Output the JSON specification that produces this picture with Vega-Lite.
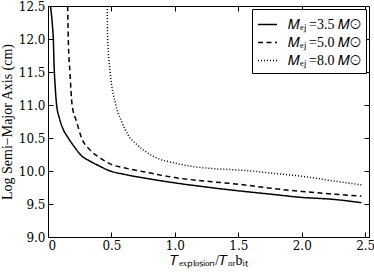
{
  "$schema": "https://vega.github.io/schema/vega-lite/v6.json",
  "autosize": "none",
  "width": 321,
  "height": 231,
  "padding": {"left": 48, "top": 6, "right": 5, "bottom": 37},
  "background": "white",
  "config": {
    "view": {"stroke": "black", "strokeWidth": 1},
    "font": "Liberation Serif",
    "axis": {
      "domain": false,
      "grid": false,
      "tickSize": -5,
      "tickColor": "black",
      "labelFont": "DejaVu Serif",
      "labelFontSize": 12,
      "labelColor": "black",
      "titleFont": "Liberation Serif",
      "titleFontSize": 14,
      "titleFontWeight": "normal",
      "titleColor": "black"
    },
    "legend": {
      "labelFont": "Liberation Serif",
      "labelFontSize": 14,
      "labelColor": "black"
    }
  },
  "data": {
    "values": [
      {"s": "a", "x": 0.02, "y": 12.5}, {"s": "a", "x": 0.035, "y": 12.2}, {"s": "a", "x": 0.042, "y": 12.0}, {"s": "a", "x": 0.048, "y": 11.6}, {"s": "a", "x": 0.056, "y": 11.3}, {"s": "a", "x": 0.068, "y": 11.0}, {"s": "a", "x": 0.09, "y": 10.8}, {"s": "a", "x": 0.12, "y": 10.63}, {"s": "a", "x": 0.16, "y": 10.5}, {"s": "a", "x": 0.21, "y": 10.36}, {"s": "a", "x": 0.265, "y": 10.23}, {"s": "a", "x": 0.33, "y": 10.15}, {"s": "a", "x": 0.4, "y": 10.08}, {"s": "a", "x": 0.49, "y": 10.0}, {"s": "a", "x": 0.6, "y": 9.95}, {"s": "a", "x": 0.8, "y": 9.88}, {"s": "a", "x": 1.0, "y": 9.82}, {"s": "a", "x": 1.275, "y": 9.75}, {"s": "a", "x": 1.5, "y": 9.7}, {"s": "a", "x": 1.75, "y": 9.65}, {"s": "a", "x": 2.0, "y": 9.6}, {"s": "a", "x": 2.25, "y": 9.57}, {"s": "a", "x": 2.47, "y": 9.52},
      {"s": "b", "x": 0.155, "y": 12.5}, {"s": "b", "x": 0.16, "y": 12.0}, {"s": "b", "x": 0.173, "y": 11.5}, {"s": "b", "x": 0.19, "y": 11.0}, {"s": "b", "x": 0.225, "y": 10.75}, {"s": "b", "x": 0.265, "y": 10.5}, {"s": "b", "x": 0.33, "y": 10.32}, {"s": "b", "x": 0.41, "y": 10.2}, {"s": "b", "x": 0.5, "y": 10.1}, {"s": "b", "x": 0.62, "y": 10.04}, {"s": "b", "x": 0.75, "y": 9.99}, {"s": "b", "x": 1.0, "y": 9.9}, {"s": "b", "x": 1.275, "y": 9.84}, {"s": "b", "x": 1.5, "y": 9.8}, {"s": "b", "x": 1.75, "y": 9.74}, {"s": "b", "x": 2.0, "y": 9.69}, {"s": "b", "x": 2.25, "y": 9.65}, {"s": "b", "x": 2.47, "y": 9.62},
      {"s": "c", "x": 0.467, "y": 12.5}, {"s": "c", "x": 0.47, "y": 12.0}, {"s": "c", "x": 0.49, "y": 11.5}, {"s": "c", "x": 0.535, "y": 11.0}, {"s": "c", "x": 0.58, "y": 10.75}, {"s": "c", "x": 0.63, "y": 10.55}, {"s": "c", "x": 0.7, "y": 10.4}, {"s": "c", "x": 0.78, "y": 10.28}, {"s": "c", "x": 0.88, "y": 10.18}, {"s": "c", "x": 1.0, "y": 10.12}, {"s": "c", "x": 1.1, "y": 10.08}, {"s": "c", "x": 1.275, "y": 10.04}, {"s": "c", "x": 1.45, "y": 10.02}, {"s": "c", "x": 1.6, "y": 10.0}, {"s": "c", "x": 1.75, "y": 9.97}, {"s": "c", "x": 2.0, "y": 9.92}, {"s": "c", "x": 2.25, "y": 9.85}, {"s": "c", "x": 2.47, "y": 9.79}
    ]
  },
  "layer": [
    {
      "mark": {"type": "line", "color": "black", "strokeWidth": 1.5, "clip": true, "interpolate": "monotone"},
      "encoding": {
        "x": {"field": "x", "type": "quantitative", "scale": {"domain": [0, 2.53], "nice": false, "zero": false},
          "axis": {"orient": "bottom", "values": [0, 0.5, 1, 1.5, 2, 2.5], "labelExpr": "datum.value == 0 ? '0' : format(datum.value, '.1f')", "labelPadding": 8, "title": "𝑇ₑₓₚₗₒₛᵢₒₙ/𝑇ₒᵣbᵢₜ", "titlePadding": 2}},
        "y": {"field": "y", "type": "quantitative", "scale": {"domain": [9, 12.5], "nice": false, "zero": false},
          "axis": {"orient": "left", "values": [9, 9.5, 10, 10.5, 11, 11.5, 12, 12.5], "format": ".1f", "labelPadding": 8, "title": "Log Semi−Major Axis (cm)", "titlePadding": 4}},
        "strokeDash": {"field": "s", "type": "nominal",
          "scale": {"domain": ["a", "b", "c"], "range": [[1, 0], [5, 3.5], [1, 2]]},
          "legend": {"title": null, "orient": "none", "legendX": 204, "legendY": 3, "symbolType": "stroke", "symbolSize": 361, "symbolStrokeColor": "black", "symbolStrokeWidth": 1.5, "strokeColor": "black", "fillColor": "white", "padding": 5, "rowPadding": 0, "labelOffset": 10, "labelExpr": "datum.value == 'a' ? '𝑀ₑⱼ =3.5 𝑀⊙' : datum.value == 'b' ? '𝑀ₑⱼ =5.0 𝑀⊙' : '𝑀ₑⱼ =8.0 𝑀⊙'"}}
      }
    },
    {
      "mark": {"type": "line", "strokeOpacity": 0},
      "encoding": {
        "x": {"field": "x", "type": "quantitative", "scale": {"domain": [0, 2.53], "nice": false, "zero": false},
          "axis": {"orient": "top", "values": [0, 0.5, 1, 1.5, 2, 2.5], "labels": false, "title": null}},
        "y": {"field": "y", "type": "quantitative", "scale": {"domain": [9, 12.5], "nice": false, "zero": false},
          "axis": {"orient": "right", "values": [9, 9.5, 10, 10.5, 11, 11.5, 12, 12.5], "labels": false, "title": null}},
        "detail": {"field": "s", "type": "nominal"}
      }
    }
  ],
  "resolve": {"axis": {"x": "independent", "y": "independent"}}
}
